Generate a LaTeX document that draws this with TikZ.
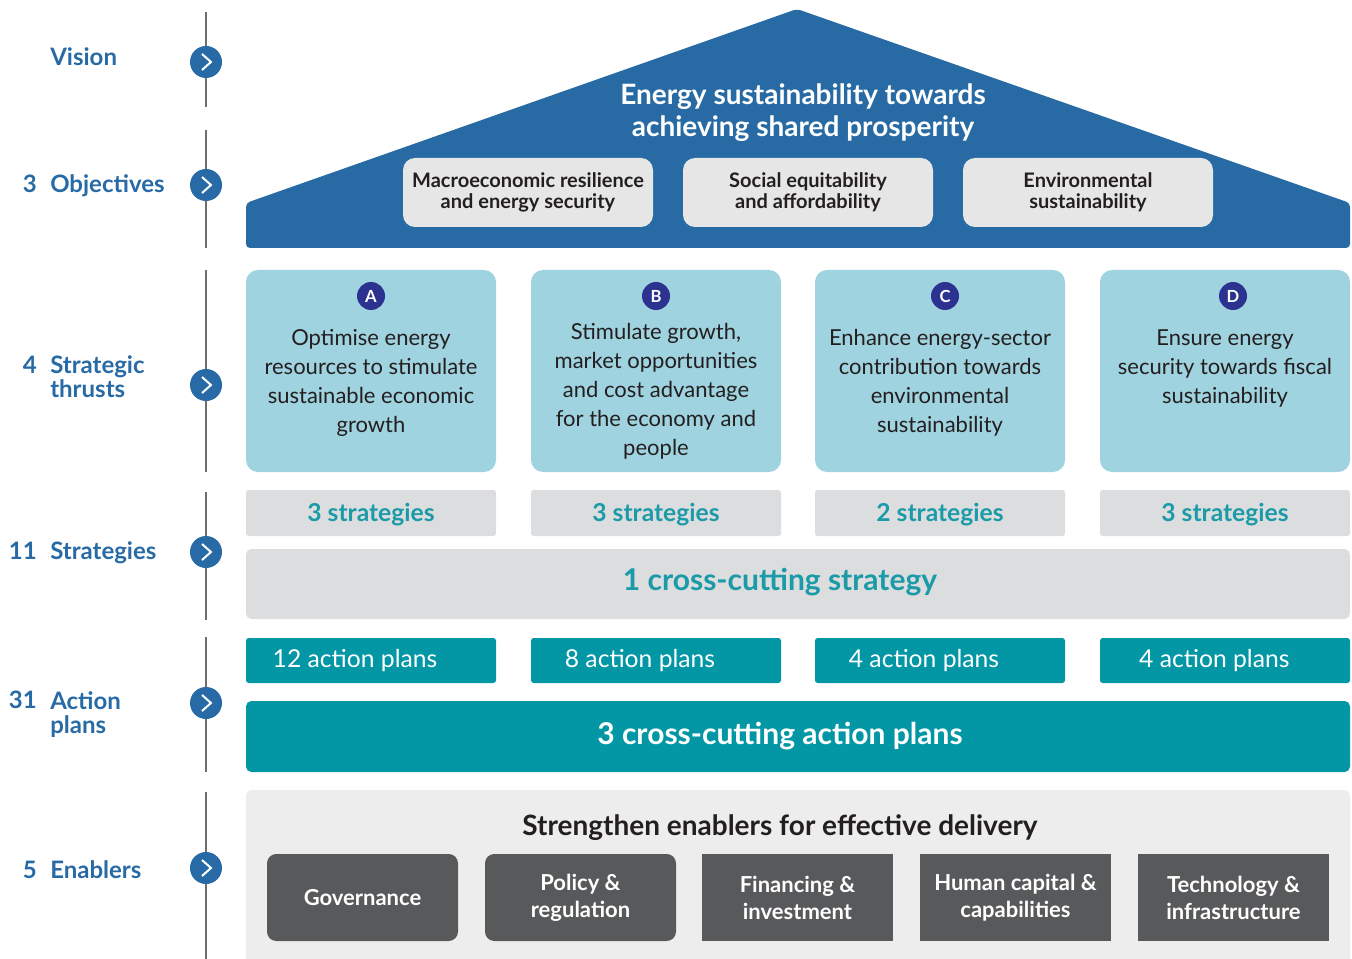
\documentclass[tikz,border=0pt]{standalone}
\usepackage{fontspec}
\setmainfont{Lato}
\usetikzlibrary{positioning}

\definecolor{houseblue}{RGB}{40,107,164}
\definecolor{lblblue}{RGB}{39,106,165}
\definecolor{objgrey}{RGB}{230,230,230}
\definecolor{thrustblue}{RGB}{160,211,224}
\definecolor{badgenavy}{RGB}{43,50,144}
\definecolor{stratgrey}{RGB}{220,221,223}
\definecolor{tealfill}{RGB}{3,151,166}
\definecolor{tealtext}{RGB}{27,154,167}
\definecolor{panelgrey}{RGB}{237,237,237}
\definecolor{engrey}{RGB}{88,89,91}
\definecolor{darktext}{RGB}{35,31,32}
\definecolor{linegrey}{RGB}{109,110,113}

\tikzset{
  lvlnum/.style={text=lblblue, inner sep=0pt, font=\bfseries\fontsize{18}{18}\selectfont},
  lvlword/.style={text=lblblue, inner sep=0pt, align=left, font=\bfseries\fontsize{18}{18}\selectfont},
  lvlline/.style={draw=linegrey, line width=1.1pt},
  stepcirc/.style={circle, fill=lblblue, minimum size=24pt, inner sep=0pt},
  chev/.style={draw=white, line width=1.5pt},
  objbox/.style={fill=objgrey, rounded corners=9pt, minimum width=187.5pt, minimum height=51.75pt,
    align=center, text=darktext, font=\bfseries\fontsize{15}{15.75}\selectfont},
  thrustbox/.style={fill=thrustblue, rounded corners=9pt, minimum width=187.5pt, minimum height=151.5pt},
  thrusttext/.style={text=darktext, align=center, inner sep=0pt,
    font=\fontsize{16.5}{21.75}\selectfont},
  badge/.style={circle, fill=badgenavy, minimum size=21pt, inner sep=0pt, text=white,
    font=\bfseries\fontsize{12.5}{13}\selectfont},
  stratbox/.style={fill=stratgrey, minimum width=187.5pt, minimum height=34.5pt, rounded corners=2pt,
    text=tealtext, text depth=1pt, font=\bfseries\fontsize{18.5}{20}\selectfont},
  apbox/.style={fill=tealfill, minimum width=187.5pt, minimum height=33.75pt, rounded corners=2pt},
  aptext/.style={text=white, inner sep=0pt, font=\fontsize{18.5}{20}\selectfont},
  widebar/.style={minimum width=828pt, rounded corners=4pt},
  enbox/.style={fill=engrey, minimum width=143.25pt, minimum height=65.25pt, align=center,
    text=white, font=\bfseries\fontsize{16.5}{20.25}\selectfont}
}

\begin{document}
\begin{tikzpicture}[x=0.75pt,y=0.75pt,yscale=-1,xscale=1]
\useasboundingbox (0,0) rectangle (1352,959);

%Left scale lines
\draw[lvlline] (206,12) -- (206,107);
\draw[lvlline] (206,130) -- (206,248);
\draw[lvlline] (206,270) -- (206,472);
\draw[lvlline] (206,492) -- (206,620);
\draw[lvlline] (206,637) -- (206,772);
\draw[lvlline] (206,792) -- (206,959);

%Step circles with chevrons
\foreach \cy in {62,185,385,552,703,868}{
  \node[stepcirc] (c\cy) at (206,\cy) {};
  \draw[chev] (202,\cy-8) -- (211,\cy) -- (202,\cy+8);
}

% Text Node - level labels
\node[lvlword, anchor=base west] (lVision) at (50,66) {Vision};
\node[lvlnum, anchor=base east] (nObj) at (37,193) {3};
\node[lvlword, anchor=base west] (lObj) at (50,193) {Objectives};
\node[lvlnum, anchor=base east] (nThr) at (37,373) {4};
\node[lvlword, anchor=base west] (lThr) at (50,397) {Strategic\\thrusts};
\node[lvlnum, anchor=base east] (nStr) at (37,559) {11};
\node[lvlword, anchor=base west] (lStr) at (50,559) {Strategies};
\node[lvlnum, anchor=base east] (nAct) at (37,708) {31};
\node[lvlword, anchor=base west] (lAct) at (50,733) {Action\\plans};
\node[lvlnum, anchor=base east] (nEn) at (37,878) {5};
\node[lvlword, anchor=base west] (lEn) at (50,878) {Enablers};

%House roof
\fill[houseblue, rounded corners=3pt] (246,248) -- (246,203) -- (797,9) -- (1350,203) -- (1350,248) -- cycle;
\node[text=white, align=center, font=\bfseries\fontsize{21}{24}\selectfont] (vision) at (803,113)
  {Energy sustainability towards\\achieving shared prosperity};

%Objectives
\node[objbox] (objA) at (528,192.5) {Macroeconomic resilience\\and energy security};
\node[objbox] (objB) at (808,192.5) {Social equitability\\and affordability};
\node[objbox] (objC) at (1088,192.5) {Environmental\\sustainability};

%Strategic thrusts
\node[thrustbox] (tA) at (371,371) {};
\node[thrustbox] (tB) at (656,371) {};
\node[thrustbox] (tC) at (940,371) {};
\node[thrustbox] (tD) at (1225,371) {};
\node[badge] (bA) at (371,296) {A};
\node[badge] (bB) at (656,296) {B};
\node[badge] (bC) at (945,296) {C};
\node[badge] (bD) at (1233,296) {D};
\node[thrusttext] (tAtext) at (371,383) {Optimise energy\\resources to stimulate\\sustainable economic\\growth};
\node[thrusttext] (tBtext) at (656,391) {Stimulate growth,\\market opportunities\\and cost advantage\\for the economy and\\people};
\node[thrusttext] (tCtext) at (940,383) {Enhance energy-sector\\contribution towards\\environmental\\sustainability};
\node[thrusttext] (tDtext) at (1225,368.5) {Ensure energy\\security towards fiscal\\sustainability};

%Strategies
\node[stratbox] (sA) at (371,513) {3 strategies};
\node[stratbox] (sB) at (656,513) {3 strategies};
\node[stratbox] (sC) at (940,513) {2 strategies};
\node[stratbox] (sD) at (1225,513) {3 strategies};
\node[widebar, fill=stratgrey, minimum height=52.5pt] (sX) at (798,584) {};
\node[text=tealtext, font=\bfseries\fontsize{22.5}{24}\selectfont] (sXtext) at (780,582) {1 cross-cutting strategy};

%Action plans
\node[apbox] (apA) at (371,660.5) {};
\node[apbox] (apB) at (656,660.5) {};
\node[apbox] (apC) at (940,660.5) {};
\node[apbox] (apD) at (1225,660.5) {};
\node[aptext] (apAtext) at ([xshift=-12pt]apA.center) {12 action plans};
\node[aptext] (apBtext) at ([xshift=-12pt]apB.center) {8 action plans};
\node[aptext] (apCtext) at ([xshift=-12pt]apC.center) {4 action plans};
\node[aptext] (apDtext) at ([xshift=-8pt]apD.center) {4 action plans};
\node[widebar, fill=tealfill, minimum height=53.25pt] (apX) at (798,736.5) {};
\node[text=white, font=\bfseries\fontsize{22.5}{24}\selectfont] (apXtext) at (780,736) {3 cross-cutting action plans};

%Enablers
\node[widebar, fill=panelgrey, minimum height=131.25pt] (enPanel) at (798,877.5) {};
\node[text=darktext, font=\bfseries\fontsize{21}{24}\selectfont] (enTitle) at (780,828) {Strengthen enablers for effective delivery};
\node[enbox, rounded corners=7pt] (en1) at (362.5,897.5) {Governance};
\node[enbox, rounded corners=7pt] (en2) at (580.5,897.5) {Policy \&\\regulation};
\node[enbox] (en3) at (797.5,897.5) {Financing \&\\investment};
\node[enbox] (en4) at (1015.5,897.5) {Human capital \&\\capabilities};
\node[enbox] (en5) at (1233.5,897.5) {Technology \&\\infrastructure};

\end{tikzpicture}
\end{document}
